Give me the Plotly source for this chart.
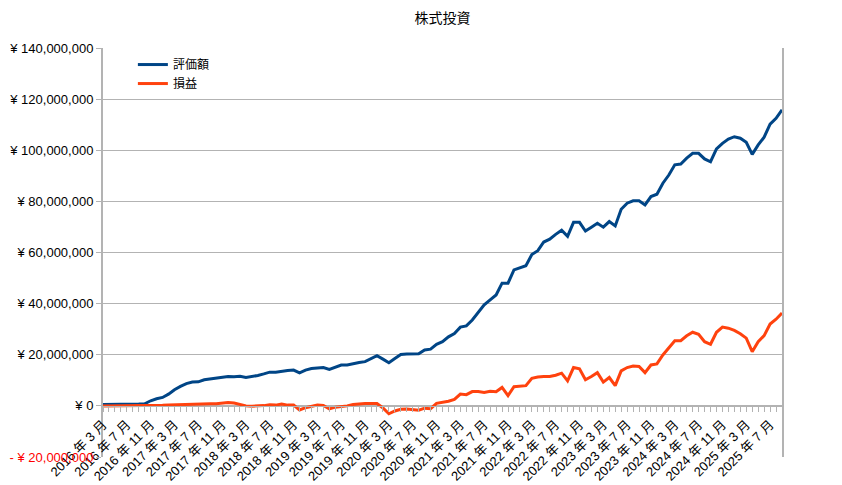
import plotly.graph_objects as go

# months from 2016年3月 to 2025年9月
start_year, start_month = 2016, 3
n_points = 115
months = []
y, m = start_year, start_month
for _ in range(n_points):
    months.append(f"{y} 年 {m} 月")
    m += 1
    if m > 12:
        m = 1
        y += 1

# 評価額 (million yen)
valuation_m = [
    0.5, 0.5, 0.5, 0.5, 0.6, 0.6, 0.7, 0.8, 2.0, 2.8,
    3.3, 4.6, 6.3, 7.6, 8.7, 9.3, 9.4, 10.2, 10.5, 10.8,
    11.0, 11.5, 11.4, 11.6, 11.1, 11.4, 11.9, 12.5, 13.2, 13.2,
    13.6, 13.8, 14.0, 12.9, 14.0, 14.6, 14.8, 15.0, 14.3, 15.3,
    16.0, 16.0, 16.6, 17.0, 17.3, 18.5, 19.6, 18.3, 16.9, 18.5,
    20.1, 20.3, 20.3, 20.4, 21.9, 22.2, 24.1, 25.1, 27.0, 28.3,
    30.8, 31.3, 33.6, 36.8, 39.5, 41.5, 43.4, 48.0, 48.0, 53.2,
    54.0, 54.8, 59.2, 60.7, 64.1, 65.2, 67.1, 68.7, 66.3, 71.8,
    71.8, 68.4, 69.9, 71.4, 69.9, 72.1, 70.4, 76.9, 79.3, 80.2,
    80.2, 78.6, 81.9, 82.8, 87.1, 90.3, 94.3, 94.6, 96.9, 98.8,
    98.8, 96.6, 95.5, 100.5, 102.7, 104.4, 105.3, 104.7, 103.1, 98.4,
    102.1, 105.1, 110.2, 112.5, 115.8,
]

# 損益 (million yen)
profit_m = [
    0.0, 0.0, 0.0, 0.0, 0.0, 0.0, 0.0, 0.0, 0.1, 0.2,
    0.2, 0.3, 0.4, 0.4, 0.5, 0.6, 0.6, 0.7, 0.8, 0.8,
    1.0, 1.3, 1.1, 0.4, 0.0, -0.1, -0.1, 0.1, 0.4, 0.3,
    0.7, 0.3, 0.3, -1.6, -0.7, -0.1, 0.3, 0.2, -1.2, -0.5,
    -0.3, 0.0, 0.5, 0.8, 0.9, 0.9, 0.9, -0.8, -3.1, -2.0,
    -1.3, -1.2, -1.5, -1.7, -0.9, -1.1, 1.0, 1.3, 1.8, 2.5,
    4.6, 4.4, 5.6, 5.6, 5.2, 5.7, 5.5, 7.2, 4.0, 7.5,
    7.6, 7.9, 10.8, 11.3, 11.5, 11.5, 12.0, 12.8, 9.8, 15.0,
    14.5, 10.2, 11.5, 13.0, 9.3, 11.1, 7.9, 13.7, 15.0, 15.6,
    15.4, 13.0, 16.0, 16.4, 19.9, 22.6, 25.5, 25.5, 27.4, 28.8,
    28.0, 25.1, 24.1, 28.8, 30.8, 30.4, 29.5, 28.2, 26.5, 21.2,
    25.1, 27.5, 32.0, 33.9, 36.3,
]

valuation = [v * 1_000_000 for v in valuation_m]
profit = [v * 1_000_000 for v in profit_m]

y_tick_vals = [-20_000_000, 0, 20_000_000, 40_000_000, 60_000_000,
               80_000_000, 100_000_000, 120_000_000, 140_000_000]
y_tick_text = ["<span style='color:#ff0000'>- ¥ 20,000,000</span>", "¥ 0",
               "¥ 20,000,000", "¥ 40,000,000", "¥ 60,000,000", "¥ 80,000,000",
               "¥ 100,000,000", "¥ 120,000,000", "¥ 140,000,000"]

x_idx = list(range(n_points))
# labels every 4 months, up to 2025 年 7 月
x_tick_vals = [v for v in x_idx[::4] if v <= 112]
x_tick_text = [months[v] for v in x_tick_vals]

FONT = "Liberation Sans, Noto Sans CJK JP, sans-serif"
GRID = "#b3b3b3"

fig = go.Figure()
fig.add_trace(go.Scatter(x=x_idx, y=valuation, mode="lines", name="評価額",
                         line=dict(color="#004586", width=3)))
fig.add_trace(go.Scatter(x=x_idx, y=profit, mode="lines", name="損益",
                         line=dict(color="#ff420e", width=3)))

W, H = 834, 477
fig.update_layout(
    width=W, height=H,
    margin=dict(l=95, r=60, t=40, b=28),
    paper_bgcolor="white", plot_bgcolor="white",
    font=dict(family=FONT, size=13, color="black"),
    title=dict(text="株式投資", x=0.5, xref="paper", y=1 - 10 / H,
               yanchor="middle", font=dict(size=14)),
    legend=dict(x=0.044, y=0.995, xanchor="left", yanchor="top",
                bgcolor="rgba(0,0,0,0)", font=dict(size=12),
                tracegroupgap=0),
    showlegend=True,
)

fig.update_xaxes(
    range=[0, n_points - 1],
    anchor="free", position=0.125,
    tickmode="array", tickvals=x_tick_vals, ticktext=x_tick_text,
    tickangle=-45, ticks="outside", ticklen=5, tickcolor=GRID,
    minor=dict(tickmode="linear", tick0=0, dtick=1, ticks="outside",
               ticklen=5, tickcolor=GRID, showgrid=False),
    showgrid=False, showline=True, linecolor=GRID, zeroline=False,
    tickfont=dict(size=13), automargin=False,
)
fig.update_yaxes(
    range=[-20_000_000, 140_000_000],
    tickmode="array", tickvals=y_tick_vals, ticktext=y_tick_text,
    showgrid=True, gridcolor=GRID, gridwidth=1,
    ticks="outside", ticklen=5, tickcolor=GRID,
    showline=True, linecolor=GRID, linewidth=2, mirror=True,
    zeroline=False, tickfont=dict(size=13), automargin=False,
)

fig.write_html("out.html")
